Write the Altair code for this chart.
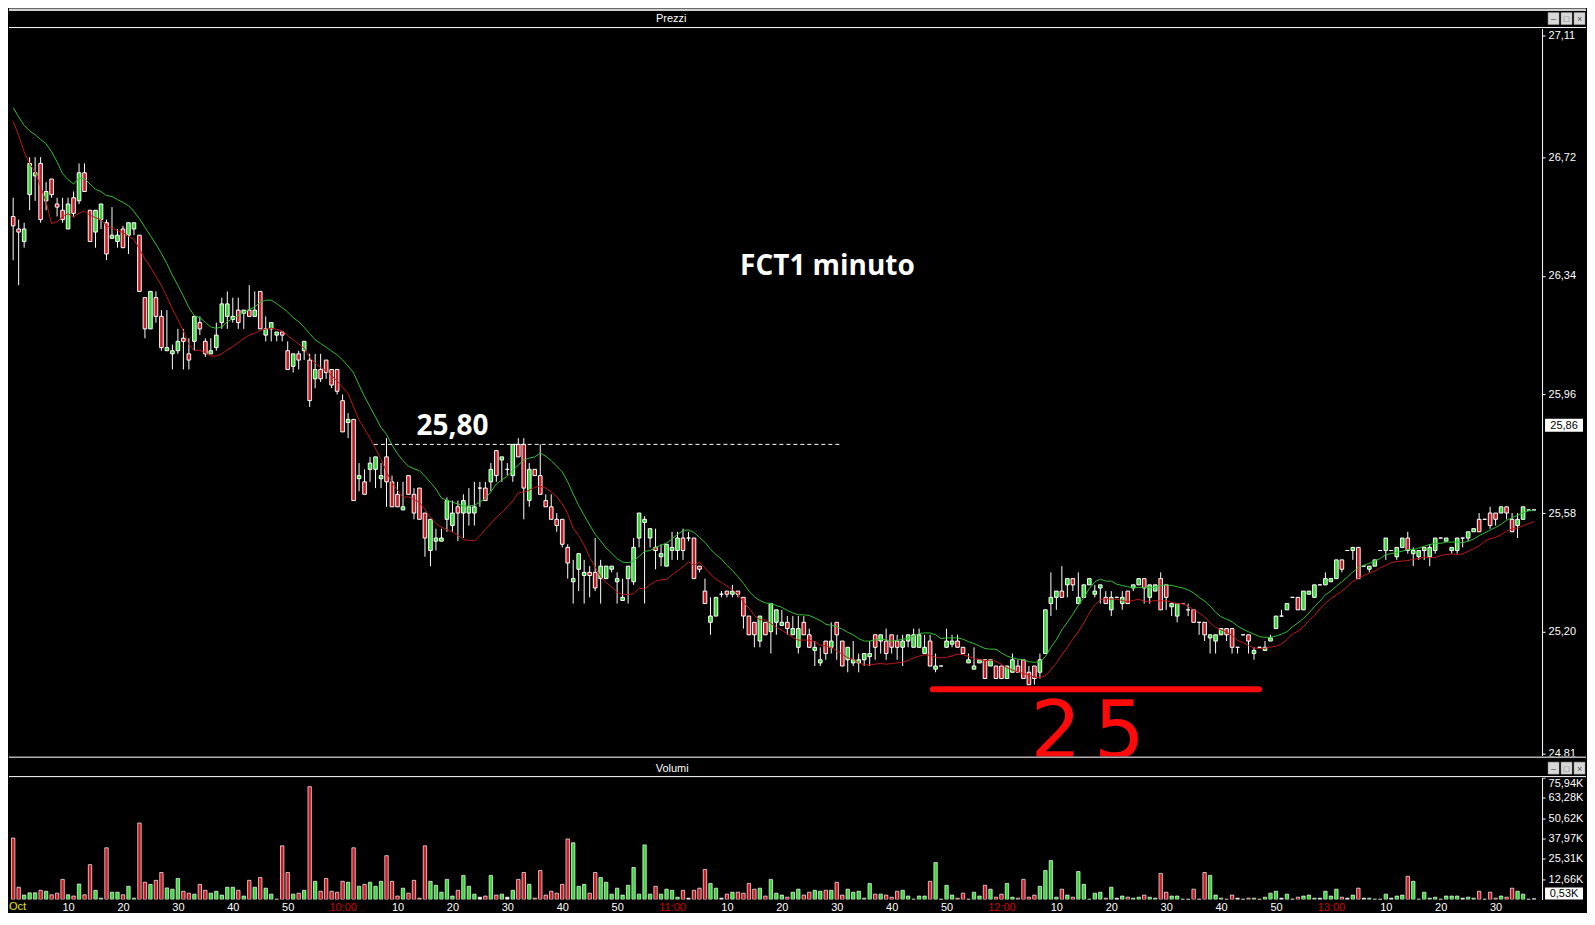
import altair as alt
import pandas as pd

# ---------------- data (one bar per minute, minute 0 = 09:00) ----------------
opens = [
    26.53, 26.49, 26.45, 26.60, 26.66, 26.70, 26.58, 26.65, 26.57, 26.55,
    26.49, 26.59, 26.58, 26.67, 26.55, 26.48, 26.52, 26.51, 26.46, 26.45,
    26.49, 26.47, 26.49, 26.47, 26.27, 26.17, 26.27, 26.21, 26.10, 26.09,
    26.10, 26.14, 26.09, 26.13, 26.19, 26.13, 26.09, 26.11, 26.19, 26.21,
    26.20, 26.23, 26.22, 26.23, 26.21, 26.29, 26.15, 26.17, 26.15, 26.16,
    26.10, 26.05, 26.09, 26.10, 26.07, 26.01, 26.04, 26.07, 26.04, 26.04,
    25.94, 25.87, 25.88, 25.69, 25.68, 25.72, 25.72, 25.69, 25.76, 25.68,
    25.64, 25.59, 25.70, 25.64, 25.66, 25.58, 25.46, 25.49, 25.49, 25.56,
    25.54, 25.60, 25.58, 25.58, 25.58, 25.66, 25.66, 25.68, 25.78, 25.75,
    25.72, 25.70, 25.80, 25.80, 25.62, 25.72, 25.70, 25.62, 25.60, 25.56,
    25.56, 25.47, 25.36, 25.40, 25.38, 25.39, 25.39, 25.37, 25.37, 25.40,
    25.36, 25.30, 25.37, 25.36, 25.50, 25.55, 25.50, 25.47, 25.44, 25.41,
    25.46, 25.46, 25.50, 25.50, 25.50, 25.41, 25.33, 25.23, 25.25, 25.32,
    25.33, 25.32, 25.33, 25.31, 25.25, 25.23, 25.17, 25.23, 25.20, 25.23,
    25.22, 25.23, 25.19, 25.15, 25.23, 25.19, 25.14, 25.10, 25.17, 25.15,
    25.23, 25.17, 25.11, 25.10, 25.10, 25.11, 25.12, 25.19, 25.17, 25.17,
    25.19, 25.17, 25.15, 25.17, 25.15, 25.15, 25.13, 25.17, 25.08, 25.09,
    25.15, 25.16, 25.17, 25.15, 25.10, 25.08, 25.10, 25.11, 25.09, 25.09,
    25.09, 25.05, 25.07, 25.09, 25.11, 25.07, 25.09, 25.07, 25.13, 25.29,
    25.31, 25.33, 25.35, 25.37, 25.29, 25.31, 25.35, 25.32, 25.34, 25.31,
    25.27, 25.31, 25.29, 25.33, 25.34, 25.35, 25.37, 25.31, 25.33, 25.37,
    25.35, 25.28, 25.25, 25.29, 25.27, 25.27, 25.23, 25.23, 25.18, 25.17,
    25.19, 25.21, 25.21, 25.15, 25.19, 25.19, 25.13, 25.15, 25.14, 25.17,
    25.21, 25.25, 25.27, 25.31, 25.31, 25.27, 25.32, 25.31, 25.35, 25.35,
    25.36, 25.37, 25.43, 25.46, 25.46, 25.47, 25.41, 25.40, 25.41, 25.46,
    25.46, 25.46, 25.44, 25.47, 25.50, 25.45, 25.44, 25.46, 25.44, 25.46,
    25.50, 25.49, 25.46, 25.46, 25.50, 25.50, 25.52, 25.56, 25.56, 25.58,
    25.58, 25.58, 25.60, 25.56, 25.54, 25.56, 25.59, 25.59,
]
highs = [
    26.59, 26.52, 26.51, 26.72, 26.72, 26.72, 26.64, 26.65, 26.59, 26.59,
    26.59, 26.61, 26.70, 26.70, 26.55, 26.55, 26.57, 26.52, 26.56, 26.49,
    26.50, 26.51, 26.51, 26.47, 26.27, 26.29, 26.29, 26.23, 26.23, 26.12,
    26.17, 26.17, 26.14, 26.21, 26.21, 26.14, 26.14, 26.19, 26.27, 26.29,
    26.27, 26.27, 26.23, 26.31, 26.29, 26.29, 26.21, 26.19, 26.16, 26.16,
    26.13, 26.09, 26.10, 26.13, 26.09, 26.09, 26.09, 26.07, 26.04, 26.04,
    25.96, 25.90, 25.88, 25.74, 25.72, 25.76, 25.76, 25.74, 25.82, 25.70,
    25.68, 25.68, 25.70, 25.66, 25.66, 25.58, 25.56, 25.53, 25.53, 25.63,
    25.62, 25.62, 25.64, 25.66, 25.68, 25.68, 25.68, 25.74, 25.78, 25.76,
    25.74, 25.80, 25.82, 25.82, 25.74, 25.72, 25.80, 25.64, 25.64, 25.58,
    25.56, 25.48, 25.43, 25.45, 25.43, 25.41, 25.50, 25.43, 25.41, 25.41,
    25.39, 25.37, 25.41, 25.50, 25.58, 25.57, 25.53, 25.53, 25.48, 25.48,
    25.52, 25.52, 25.53, 25.52, 25.50, 25.41, 25.37, 25.31, 25.31, 25.33,
    25.33, 25.35, 25.33, 25.31, 25.25, 25.23, 25.25, 25.23, 25.29, 25.27,
    25.27, 25.25, 25.25, 25.25, 25.25, 25.21, 25.17, 25.15, 25.17, 25.23,
    25.23, 25.17, 25.15, 25.17, 25.13, 25.13, 25.17, 25.19, 25.19, 25.21,
    25.19, 25.19, 25.19, 25.19, 25.21, 25.21, 25.19, 25.19, 25.13, 25.09,
    25.21, 25.19, 25.19, 25.15, 25.13, 25.15, 25.11, 25.11, 25.11, 25.09,
    25.09, 25.09, 25.13, 25.11, 25.11, 25.09, 25.09, 25.13, 25.27, 25.39,
    25.33, 25.41, 25.37, 25.37, 25.39, 25.35, 25.37, 25.35, 25.35, 25.33,
    25.33, 25.31, 25.33, 25.33, 25.35, 25.37, 25.37, 25.35, 25.35, 25.39,
    25.35, 25.29, 25.29, 25.29, 25.29, 25.27, 25.23, 25.23, 25.19, 25.19,
    25.21, 25.21, 25.21, 25.15, 25.19, 25.19, 25.15, 25.15, 25.17, 25.19,
    25.25, 25.27, 25.29, 25.31, 25.31, 25.33, 25.33, 25.35, 25.35, 25.39,
    25.37, 25.43, 25.43, 25.46, 25.47, 25.47, 25.41, 25.41, 25.43, 25.46,
    25.50, 25.46, 25.47, 25.50, 25.52, 25.47, 25.46, 25.47, 25.48, 25.50,
    25.50, 25.50, 25.47, 25.50, 25.50, 25.52, 25.53, 25.58, 25.56, 25.60,
    25.58, 25.60, 25.60, 25.58, 25.58, 25.60, 25.59, 25.59,
]
lows = [
    26.39, 26.31, 26.43, 26.55, 26.58, 26.51, 26.55, 26.59, 26.53, 26.51,
    26.49, 26.53, 26.57, 26.61, 26.45, 26.43, 26.49, 26.39, 26.46, 26.43,
    26.43, 26.41, 26.47, 26.29, 26.14, 26.17, 26.19, 26.10, 26.10, 26.04,
    26.09, 26.04, 26.04, 26.10, 26.15, 26.08, 26.09, 26.10, 26.17, 26.17,
    26.19, 26.17, 26.17, 26.21, 26.21, 26.17, 26.13, 26.13, 26.13, 26.13,
    26.04, 26.03, 26.04, 26.07, 25.92, 25.98, 26.00, 26.01, 25.98, 25.96,
    25.84, 25.82, 25.62, 25.65, 25.64, 25.68, 25.66, 25.66, 25.60, 25.60,
    25.60, 25.59, 25.64, 25.56, 25.56, 25.44, 25.41, 25.46, 25.49, 25.52,
    25.52, 25.49, 25.50, 25.54, 25.54, 25.60, 25.62, 25.65, 25.68, 25.68,
    25.70, 25.68, 25.76, 25.56, 25.60, 25.70, 25.64, 25.60, 25.56, 25.52,
    25.47, 25.37, 25.29, 25.33, 25.29, 25.31, 25.33, 25.29, 25.37, 25.39,
    25.29, 25.30, 25.29, 25.35, 25.47, 25.29, 25.47, 25.40, 25.41, 25.41,
    25.43, 25.43, 25.43, 25.49, 25.37, 25.39, 25.29, 25.19, 25.25, 25.31,
    25.31, 25.31, 25.31, 25.21, 25.19, 25.15, 25.15, 25.19, 25.13, 25.19,
    25.22, 25.19, 25.19, 25.13, 25.19, 25.15, 25.09, 25.09, 25.11, 25.13,
    25.11, 25.09, 25.07, 25.09, 25.07, 25.09, 25.09, 25.11, 25.13, 25.11,
    25.13, 25.11, 25.09, 25.15, 25.15, 25.15, 25.13, 25.09, 25.07, 25.09,
    25.15, 25.15, 25.15, 25.13, 25.10, 25.08, 25.10, 25.05, 25.09, 25.05,
    25.05, 25.05, 25.07, 25.07, 25.05, 25.03, 25.03, 25.05, 25.13, 25.25,
    25.27, 25.31, 25.31, 25.33, 25.29, 25.31, 25.35, 25.31, 25.29, 25.29,
    25.25, 25.31, 25.27, 25.29, 25.33, 25.35, 25.29, 25.29, 25.33, 25.27,
    25.27, 25.25, 25.23, 25.29, 25.25, 25.23, 25.19, 25.17, 25.13, 25.13,
    25.19, 25.17, 25.13, 25.13, 25.19, 25.13, 25.11, 25.15, 25.14, 25.17,
    25.21, 25.25, 25.27, 25.31, 25.27, 25.27, 25.32, 25.31, 25.35, 25.35,
    25.36, 25.37, 25.39, 25.46, 25.43, 25.37, 25.41, 25.39, 25.41, 25.46,
    25.43, 25.46, 25.43, 25.47, 25.45, 25.41, 25.43, 25.43, 25.41, 25.45,
    25.50, 25.49, 25.45, 25.45, 25.47, 25.49, 25.52, 25.52, 25.56, 25.53,
    25.54, 25.58, 25.56, 25.52, 25.50, 25.56, 25.59, 25.59,
]
closes = [
    26.50, 26.48, 26.49, 26.70, 26.67, 26.52, 26.61, 26.60, 26.56, 26.52,
    26.57, 26.54, 26.67, 26.61, 26.45, 26.55, 26.57, 26.41, 26.47, 26.47,
    26.43, 26.51, 26.51, 26.29, 26.17, 26.29, 26.21, 26.11, 26.11, 26.10,
    26.13, 26.13, 26.07, 26.21, 26.17, 26.09, 26.10, 26.15, 26.25, 26.25,
    26.21, 26.19, 26.23, 26.21, 26.23, 26.17, 26.17, 26.19, 26.16, 26.15,
    26.04, 26.09, 26.07, 26.13, 25.94, 26.04, 26.01, 26.03, 25.99, 25.97,
    25.84, 25.88, 25.62, 25.70, 25.64, 25.74, 25.76, 25.70, 25.68, 25.60,
    25.60, 25.60, 25.64, 25.58, 25.56, 25.50, 25.56, 25.50, 25.50, 25.62,
    25.58, 25.58, 25.62, 25.60, 25.60, 25.66, 25.62, 25.72, 25.70, 25.76,
    25.72, 25.80, 25.76, 25.66, 25.72, 25.70, 25.64, 25.60, 25.56, 25.54,
    25.48, 25.42, 25.37, 25.45, 25.39, 25.38, 25.34, 25.41, 25.41, 25.41,
    25.37, 25.31, 25.41, 25.47, 25.58, 25.56, 25.53, 25.46, 25.45, 25.48,
    25.47, 25.50, 25.46, 25.50, 25.37, 25.40, 25.29, 25.25, 25.31, 25.32,
    25.32, 25.33, 25.32, 25.25, 25.19, 25.19, 25.25, 25.19, 25.29, 25.27,
    25.23, 25.21, 25.21, 25.21, 25.19, 25.15, 25.15, 25.11, 25.13, 25.17,
    25.19, 25.09, 25.15, 25.11, 25.11, 25.13, 25.13, 25.15, 25.19, 25.13,
    25.15, 25.15, 25.17, 25.19, 25.19, 25.19, 25.15, 25.09, 25.09, 25.09,
    25.17, 25.17, 25.15, 25.13, 25.11, 25.09, 25.11, 25.05, 25.11, 25.05,
    25.05, 25.09, 25.11, 25.07, 25.05, 25.03, 25.05, 25.11, 25.27, 25.31,
    25.33, 25.31, 25.37, 25.35, 25.31, 25.35, 25.37, 25.33, 25.35, 25.29,
    25.31, 25.31, 25.31, 25.29, 25.35, 25.37, 25.34, 25.35, 25.35, 25.27,
    25.31, 25.29, 25.29, 25.29, 25.27, 25.23, 25.23, 25.19, 25.19, 25.19,
    25.21, 25.19, 25.15, 25.15, 25.19, 25.17, 25.14, 25.15, 25.15, 25.18,
    25.25, 25.25, 25.29, 25.31, 25.27, 25.33, 25.33, 25.35, 25.35, 25.37,
    25.37, 25.43, 25.40, 25.46, 25.47, 25.37, 25.41, 25.41, 25.43, 25.46,
    25.50, 25.46, 25.47, 25.50, 25.46, 25.46, 25.46, 25.47, 25.47, 25.50,
    25.50, 25.50, 25.47, 25.50, 25.50, 25.52, 25.53, 25.52, 25.56, 25.54,
    25.56, 25.60, 25.58, 25.52, 25.56, 25.60, 25.59, 25.59,
]
volumes_k = [
    38.3, 7.6, 2.7, 4.1, 4.1, 5.7, 5.1, 2.9, 3.9, 12.5,
    2.9, 2.1, 9.6, 2.9, 21.7, 5.7, 0.8, 32.2, 4.5, 4.5,
    2.9, 8.2, 0.8, 47.6, 10.7, 9.4, 11.9, 16.8, 7.2, 6.4,
    13.1, 5.1, 3.9, 3.3, 9.4, 5.7, 3.9, 5.1, 2.7, 7.6,
    7.6, 5.7, 2.1, 11.9, 7.6, 13.7, 7.0, 3.3, 0.2, 33.4,
    16.8, 3.3, 3.9, 5.7, 70.3, 11.3, 5.1, 13.1, 5.1, 4.5,
    11.3, 10.7, 32.2, 8.2, 9.4, 10.7, 8.2, 11.3, 27.3, 11.3,
    2.1, 7.0, 3.9, 11.9, 0.8, 33.4, 11.3, 8.8, 4.5, 12.5,
    2.1, 5.7, 15.0, 8.2, 3.3, 1.4, 2.1, 15.0, 2.7, 3.3,
    1.4, 5.7, 12.5, 16.8, 9.4, 0.8, 18.0, 2.7, 5.1, 3.9,
    9.4, 37.7, 35.3, 8.2, 9.4, 3.9, 16.8, 13.7, 10.7, 3.3,
    7.0, 2.7, 8.8, 19.9, 3.3, 34.0, 3.3, 8.2, 3.3, 6.4,
    5.7, 1.4, 5.7, 0.8, 5.7, 7.0, 18.7, 10.0, 7.0, 0.8,
    3.3, 4.5, 4.5, 3.9, 10.0, 6.4, 7.0, 2.1, 12.5, 3.9,
    2.7, 1.4, 4.5, 6.4, 2.7, 4.5, 5.7, 5.1, 5.7, 5.7,
    10.7, 2.7, 6.4, 4.5, 5.1, 0.8, 10.0, 3.3, 3.3, 2.7,
    1.4, 5.1, 5.7, 2.1, 0.2, 2.1, 2.1, 11.3, 23.0, 0.2,
    8.8, 2.7, 0.8, 3.9, 0.2, 4.5, 2.1, 8.8, 6.4, 1.4,
    3.3, 10.0, 1.4, 0.8, 12.5, 1.4, 2.7, 8.2, 18.0, 24.2,
    1.4, 6.4, 2.7, 1.4, 17.4, 9.4, 0.2, 3.9, 4.5, 0.8,
    7.6, 0.8, 2.1, 1.4, 0.8, 1.4, 2.7, 1.4, 0.8, 16.2,
    4.5, 2.1, 2.1, 0.2, 0.2, 6.4, 0.2, 16.8, 15.0, 2.7,
    0.8, 0.2, 2.7, 0.8, 0.2, 0.8, 0.8, 0.2, 1.4, 3.9,
    5.1, 0.8, 3.3, 0.2, 1.4, 2.1, 2.7, 0.8, 0.8, 5.1,
    2.1, 6.4, 1.4, 0.8, 2.7, 7.0, 0.8, 0.8, 0.2, 0.2,
    3.3, 0.8, 2.1, 2.7, 14.4, 11.3, 0.2, 4.5, 0.8, 1.4,
    0.2, 2.1, 2.1, 2.1, 0.8, 1.4, 0.8, 5.1, 0.2, 4.5,
    0.8, 2.1, 1.4, 7.0, 5.1, 3.3, 0.2, 0.5,
]
minutes = list(range(len(closes)))

# moving-average values at the first bars (they carry
# the previous session, so they cannot be computed from the bars above)
ma_high_start = [26.879, 26.849, 26.822, 26.804, 26.792, 26.777, 26.763, 26.737, 26.705, 26.667, 26.648]
ma_low_start = [26.835, 26.790, 26.737, 26.699, 26.673, 26.625, 26.577, 26.507, 26.513, 26.529, 26.539]

price_ticks = [24.81, 25.20, 25.58, 25.96, 26.34, 26.72, 27.11]
volume_ticks = [12.66, 25.31, 37.97, 50.62, 63.28, 75.94]
time_ticks = list(range(10, 271, 10))

# annotations
resistance_level = [25.80]
resistance_start = [65.7]
resistance_end = [150.9]
support_level = [25.016]
support_start = [167.5]
support_end = [226.9]
note_texts = ["FCT1 minuto", "25,80"]
note_minutes = [148.3, 80.0]
note_prices = [26.369, 25.857]
hand_digits = ["2", "5"]
hand_minutes = [189.9, 201.5]
hand_prices = [24.873, 24.873]
price_box = [25.86]
volume_box = [0.53]

# ---------------- layout constants ----------------
W = 1535
HP = 728
HV = 122
FULLW = 1579
FONT = "Liberation Sans"
GREEN = "#35d835"
RED = "#cc1820"
MA_GREEN = "#2fbf2f"
MA_RED = "#c01818"

n_pad = len(closes) - len(ma_high_start)
df = pd.DataFrame({"minute": minutes, "open": opens, "high": highs,
                   "low": lows, "close": closes, "volume": volumes_k,
                   "seed_h": ma_high_start + [None] * n_pad,
                   "seed_l": ma_low_start + [None] * n_pad})
dir_expr = "datum.close > datum.open ? 'up' : (datum.close < datum.open ? 'down' : 'flat')"
color_enc = alt.Color("dir:N", scale=alt.Scale(domain=["up", "down", "flat"],
                                               range=[GREEN, RED, "#ffffff"]), legend=None)

x_scale = alt.Scale(domain=[0.15, 277.55], nice=False, zero=False)
py = alt.Scale(domain=[24.803, 27.132], nice=False, zero=False)
vy = alt.Scale(domain=[0, 75.94], nice=False, zero=False)

price_axis = alt.Axis(orient="right", values=price_ticks,
                      labelExpr="replace(format(datum.value, '.2f'), '.', ',')",
                      labelColor="white", labelFont=FONT, labelFontSize=11,
                      tickColor="white", tickSize=3, domainColor="white",
                      grid=False, labelPadding=3, title=None)
vol_axis = alt.Axis(orient="right", values=volume_ticks,
                    labelExpr="replace(format(datum.value, '.2f'), '.', ',') + 'K'",
                    labelColor="white", labelFont=FONT, labelFontSize=11,
                    tickColor="white", tickSize=3, domainColor="white",
                    grid=False, labelPadding=3, labelFlush=True, title=None)
time_axis = alt.Axis(values=time_ticks,
                     labelExpr="datum.value % 60 == 0 ? (9 + floor(datum.value / 60)) + ':00' : '' + (datum.value % 60)",
                     labelColor=alt.condition("datum.value % 60 == 0", alt.value("#d40000"), alt.value("white")),
                     labelFont=FONT, labelFontSize=11, ticks=False, domain=False,
                     labelPadding=2, grid=False, title=None)


def py_enc(field):
    return alt.Y(field, scale=py, axis=price_axis)


def vy_enc(field):
    return alt.Y(field, scale=vy, axis=vol_axis)


xq = alt.X("minute:Q", scale=x_scale, axis=None)
base = alt.Chart(df).transform_calculate(dir=dir_expr)

wicks = base.mark_rule(color="white", strokeWidth=1, clip=True).encode(
    x=xq, y=py_enc("low:Q"), y2="high:Q")
bodies = base.mark_bar(size=3.6, stroke="white", strokeWidth=1, clip=True).encode(
    x=xq, y=py_enc("open:Q"), y2="close:Q", color=color_enc)
ma = alt.Chart(df).transform_window(
    mh="mean(high)", ml="mean(low)", frame=[-9, 0],
    sort=[alt.SortField("minute")]
).transform_calculate(
    ma_high="isValid(datum.seed_h) ? datum.seed_h : datum.mh",
    ma_low="isValid(datum.seed_l) ? datum.seed_l : datum.ml")
ma_green = ma.mark_line(color=MA_GREEN, strokeWidth=1, clip=True).encode(
    x=xq, y=py_enc("ma_high:Q"))
ma_red = ma.mark_line(color=MA_RED, strokeWidth=1, clip=True).encode(
    x=xq, y=py_enc("ma_low:Q"))

res_df = pd.DataFrame({"level": resistance_level, "start": resistance_start, "end": resistance_end})
res_line = alt.Chart(res_df).mark_rule(color="white", strokeDash=[4, 3], strokeWidth=1).encode(
    x=alt.X("start:Q", scale=x_scale, axis=None), x2="end:Q", y=py_enc("level:Q"))

sup_df = pd.DataFrame({"level": support_level, "start": support_start, "end": support_end})
sup_line = alt.Chart(sup_df).mark_rule(color="#ff0a0a", strokeWidth=6, strokeCap="round").encode(
    x=alt.X("start:Q", scale=x_scale, axis=None), x2="end:Q", y=py_enc("level:Q"))

notes_df = pd.DataFrame({"t": note_texts, "m": note_minutes, "p": note_prices})
notes = alt.Chart(notes_df).mark_text(color="white", font="Open Sans", fontWeight="bold",
                                      fontSize=28, baseline="middle").encode(
    x=alt.X("m:Q", scale=x_scale, axis=None), y=py_enc("p:Q"), text="t:N")

hand_df = pd.DataFrame({"t": hand_digits, "m": hand_minutes, "p": hand_prices})
hand = alt.Chart(hand_df).mark_text(color="#ff0a0a", font="DejaVu Sans", fontSize=80,
                                    baseline="middle").encode(
    x=alt.X("m:Q", scale=x_scale, axis=None), y=py_enc("p:Q"), text="t:N")

pbox_df = pd.DataFrame({"v": price_box})
pbox = alt.Chart(pbox_df).mark_rect(color="white", yOffset=-7, y2Offset=6).encode(
    x=alt.value(W + 3), x2=alt.value(W + 41), y=py_enc("v:Q"), y2="v:Q")
pbox_txt = alt.Chart(pbox_df).transform_calculate(
    lbl="replace(format(datum.v, '.2f'), '.', ',')").mark_text(
    color="black", font=FONT, fontSize=11, baseline="middle").encode(
    x=alt.value(W + 22), y=py_enc("v:Q"), text="lbl:N")

deco = pd.DataFrame({"k": [0]})


def header(label, top, label_y, label_x):
    layers = [
        alt.Chart(deco).mark_rect(color="#000000").encode(
            x=alt.value(0), x2=alt.value(FULLW), y=alt.value(top), y2=alt.value(0)),
        alt.Chart(deco).mark_rule(color="white", strokeWidth=1).encode(
            x=alt.value(0), x2=alt.value(FULLW), y=alt.value(-1)),
        alt.Chart(deco).mark_text(text=label, color="white", font=FONT, fontSize=11,
                                  baseline="middle").encode(
            x=alt.value(label_x), y=alt.value(label_y)),
    ]
    for bx0, glyph in [(FULLW - 38, "–"), (FULLW - 25, "□"), (FULLW - 12, "×")]:
        layers.append(alt.Chart(deco).mark_rect(color="#d8d8d8", stroke="#a0a0a0",
                                                strokeWidth=0.5).encode(
            x=alt.value(bx0), x2=alt.value(bx0 + 11), y=alt.value(label_y - 6.5),
            y2=alt.value(label_y + 5.5)))
        layers.append(alt.Chart(deco).mark_text(text=glyph, color="#555555", font=FONT,
                                                fontSize=9, baseline="middle").encode(
            x=alt.value(bx0 + 5.5), y=alt.value(label_y)))
    return layers


chrome = alt.Chart(deco).mark_rect(color="#cfcfcf").encode(
    x=alt.value(0), x2=alt.value(FULLW), y=alt.value(-20), y2=alt.value(-17.5))

price_chart = alt.layer(
    *header("Prezzi", -20, -9.5, 663), chrome,
    wicks, bodies, ma_green, ma_red, res_line, sup_line, notes, hand, pbox, pbox_txt
).properties(width=W, height=HP)

# ---------------- volume panel ----------------
vbars = base.mark_bar(size=3.4, stroke="white", strokeWidth=0.7, clip=True).encode(
    x=alt.X("minute:Q", scale=x_scale, axis=time_axis),
    y=vy_enc("volume:Q"), color=color_enc)

vbox_df = pd.DataFrame({"v": volume_box})
vbox = alt.Chart(vbox_df).mark_rect(color="white", yOffset=-11, y2Offset=1).encode(
    x=alt.value(W + 3), x2=alt.value(W + 41), y=vy_enc("v:Q"), y2="v:Q")
vbox_txt = alt.Chart(vbox_df).transform_calculate(
    lbl="replace(format(datum.v, '.2f'), '.', ',') + 'K'").mark_text(
    color="black", font=FONT, fontSize=11, baseline="middle", dy=-5).encode(
    x=alt.value(W + 22), y=vy_enc("v:Q"), text="lbl:N")

sep = alt.Chart(deco).mark_rect(color="#b0b0b0").encode(
    x=alt.value(0), x2=alt.value(FULLW), y=alt.value(-21), y2=alt.value(-19.5))
oct_lbl = alt.Chart(deco).mark_text(text="Oct", color="#e8e800", font=FONT, fontSize=11,
                                    align="left", baseline="middle").encode(
    x=alt.value(0), y=alt.value(HV + 8))

volume_chart = alt.layer(
    *header("Volumi", -21, -9, 664), sep, vbars, vbox, vbox_txt, oct_lbl
).properties(width=W, height=HV)

chart = alt.vconcat(price_chart, volume_chart, spacing=22, bounds="flush", padding=0).resolve_scale(
    y="independent"
).configure(background="black").configure_view(strokeWidth=0)

chart.save("out.html", embed_options={"renderer": "svg", "actions": False})
